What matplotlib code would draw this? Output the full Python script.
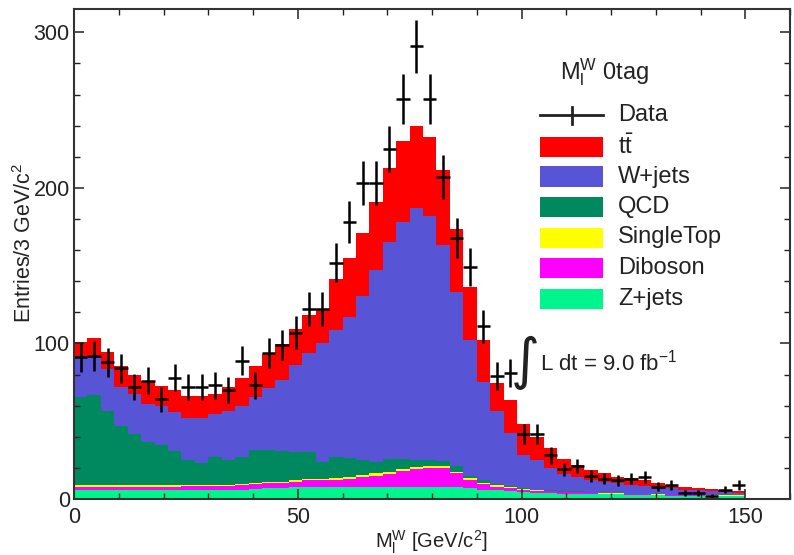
import numpy as np
import matplotlib
matplotlib.use("Agg")
import matplotlib.pyplot as plt
from matplotlib.patches import Rectangle
from matplotlib.lines import Line2D
from matplotlib.ticker import MultipleLocator

plt.rcParams['font.family'] = ['Liberation Sans', 'DejaVu Sans']
plt.rcParams['mathtext.fontset'] = 'custom'
plt.rcParams['mathtext.rm'] = 'Liberation Sans'
plt.rcParams['mathtext.it'] = 'Liberation Sans:italic'
plt.rcParams['mathtext.bf'] = 'Liberation Sans:bold'

# 3 GeV bins from 0 to 150
bin_edges = np.arange(0, 151, 3)

data = [91, 92, 88, 84, 72, 76, 64, 78, 72, 72,
        73, 70, 89, 73, 94, 99, 107, 122, 122, 152,
        178, 203, 203, 225, 257, 291, 257, 207, 168, 149,
        111, 79, 81, 42, 42, 28, 19, 21, 15, 13,
        12, 13, 14, 8, 9, 4, 4, 2, 6, 9]

zjets = [6, 6, 6, 6, 6, 6, 6, 6, 6, 6,
         6, 6, 6, 6.5, 7, 7, 7.5, 8, 8, 8,
         8, 8, 8, 8, 8, 8, 8, 8, 7.5, 7,
         6, 5.5, 5, 4.5, 4, 4, 3.5, 3.5, 3, 3,
         3, 2.5, 2.5, 2.5, 2, 2, 2, 2, 2, 2]

diboson = [2, 2, 2, 2, 2, 2, 2, 2, 2.5, 2.5,
           2.5, 2.5, 3, 3, 3, 3, 3.5, 4, 4, 4.5,
           5, 6, 7, 8, 10, 11, 12, 12, 9, 5.5,
           3.5, 2.5, 2, 1.5, 1.2, 1, 0.8, 0.7, 0.6, 0.5,
           0.5, 0.4, 0.4, 0.3, 0.3, 0.3, 0.3, 0.2, 0.2, 0.2]

singletop = [0.8, 0.8, 0.8, 0.8, 0.8, 0.8, 0.8, 0.8, 0.8, 0.8,
             0.8, 0.8, 0.8, 0.8, 0.8, 0.8, 1.0, 1.0, 1.0, 1.2,
             1.2, 1.2, 1.5, 1.5, 1.5, 1.5, 1.5, 1.2, 1.0, 1.0,
             0.8, 0.7, 0.6, 0.5, 0.4, 0.3, 0.3, 0.3, 0.2, 0.2,
             0.2, 0.2, 0.2, 0.1, 0.1, 0.1, 0.1, 0.1, 0.1, 0.1]

qcd = [57, 58, 48, 38, 33, 28, 26, 22, 16, 14,
       17.5, 15.5, 17, 21.5, 20.5, 20, 18.5, 17.5, 11, 13,
       12, 10, 7.5, 8.5, 6.5, 4.5, 3.5, 3, 3.5, 1.5,
       2, 1, 0.8, 0.5, 0.5, 0.5, 0.4, 0.4, 0.3, 0.3,
       0.3, 0.2, 0.2, 0.2, 0.2, 0.1, 0.1, 0.1, 0.1, 0.1]

wjets = [26, 25, 27, 25, 26, 24, 25, 25, 27, 29,
         28, 32, 33, 34, 40, 46, 55.5, 63.5, 76, 82,
         91, 105, 123, 139, 152, 162, 157, 139, 112, 87,
         63, 47, 34, 21, 19, 14, 11, 9, 8, 7,
         6, 5.7, 5.2, 4.4, 4.4, 3.5, 3, 2.6, 2.1, 1.6]

ttbar = [9, 11.5, 11, 14, 12, 15, 13, 14, 14, 14,
         13, 15, 18, 20, 22, 23, 23, 24, 22, 33,
         38, 41, 44, 48, 52, 53, 51, 48.5, 40.4, 34,
         27, 18, 21.5, 20, 15, 13, 10, 8, 6.7, 5.5,
         4, 4.5, 3.5, 2.5, 2, 1.7, 1.5, 1.4, 1.3, 1.3]

components = [
    ("Z+jets", zjets, "#00f58c"),
    ("Diboson", diboson, "#ff00ff"),
    ("SingleTop", singletop, "#ffff00"),
    ("QCD", qcd, "#00895e"),
    ("W+jets", wjets, "#5754d6"),
    (r"t$\bar{\mathrm{t}}$", ttbar, "#ff0000"),
]

fig = plt.figure(figsize=(7.94, 5.55), dpi=100)
W, H = 794.0, 555.0
x0, x1, y0, y1 = 74, 790, 9, 499
ax = fig.add_axes([x0 / W, 1 - y1 / H, (x1 - x0) / W, (y1 - y0) / H])

# stacked backgrounds
bottom = np.zeros(len(bin_edges) - 1)
for name, vals, col in components:
    top = bottom + np.asarray(vals, dtype=float)
    ax.stairs(top, bin_edges, baseline=bottom, fill=True, color=col, lw=0)
    bottom = top

# data points with statistical errors
centers = 0.5 * (bin_edges[:-1] + bin_edges[1:])
d = np.asarray(data, dtype=float)
ax.errorbar(centers, d, xerr=1.5, yerr=np.sqrt(d), fmt='none',
            ecolor='black', elinewidth=1.8, capsize=0, zorder=5)

ax.set_xlim(0, 160)
ax.set_ylim(0, 315)
ax.xaxis.set_major_locator(MultipleLocator(50))
ax.xaxis.set_minor_locator(MultipleLocator(10))
ax.yaxis.set_major_locator(MultipleLocator(100))
ax.yaxis.set_minor_locator(MultipleLocator(20))
ax.tick_params(which='both', direction='in', top=True, right=True,
               labelsize=15.5, colors='#222222')
ax.tick_params(which='major', length=7, width=1.1)
ax.tick_params(which='minor', length=4, width=1.0)
ax.tick_params(axis='x', pad=6)
ax.tick_params(axis='y', pad=3)
for sp in ax.spines.values():
    sp.set_linewidth(1.5)
    sp.set_color('#333333')
    sp.set_zorder(6)

ax.set_xlabel(r"M$_{\mathrm{l}}^{\mathrm{W}}$ [GeV/c$^{2}$]", fontsize=14.5,
              color='#222222')
ax.xaxis.set_label_coords((431 - x0) / (x1 - x0), -(529 - y1) / (y1 - y0))
ax.set_ylabel(r"Entries/3 GeV/c$^{2}$", fontsize=15.5, color='#222222')
ax.yaxis.set_label_coords(-(74 - 36) / (x1 - x0), (y1 - 243) / (y1 - y0))


def ax_xy(px, py):
    return (px - x0) / (x1 - x0), (y1 - py) / (y1 - y0)


# legend
tx, ty = ax_xy(560, 72)
ax.text(tx, ty, r"M$_{\mathrm{l}}^{\mathrm{W}}$ 0tag", transform=ax.transAxes,
        fontsize=17, va='center', ha='left', color='#222222')

lx0, _ = ax_xy(540, 0)
lx1, _ = ax_xy(603, 0)
txt_x, _ = ax_xy(618, 0)
_, dy = ax_xy(0, 115)
ax.add_line(Line2D([lx0, lx1], [dy, dy], transform=ax.transAxes,
                   color='#222222', lw=2, clip_on=False))
_, dyt = ax_xy(0, 107)
_, dyb = ax_xy(0, 124)
ax.add_line(Line2D([(lx0 + lx1) / 2] * 2, [dyb, dyt], transform=ax.transAxes,
                   color='#222222', lw=2, clip_on=False))
ax.text(txt_x, dy, "Data", transform=ax.transAxes, fontsize=17,
        va='center', ha='left', color='#222222')

legend_rows = [(r"t$\bar{\mathrm{t}}$", "#ff0000", 147),
               ("W+jets", "#5754d6", 176.5),
               ("QCD", "#00895e", 207),
               ("SingleTop", "#ffff00", 237.5),
               ("Diboson", "#ff00ff", 267.5),
               ("Z+jets", "#00f58c", 298.5)]
box_h = 20 / (y1 - y0)
for label, col, cy in legend_rows:
    _, yc = ax_xy(0, cy)
    ax.add_patch(Rectangle((lx0, yc - box_h / 2), lx1 - lx0, box_h,
                           transform=ax.transAxes, facecolor=col,
                           edgecolor='none', clip_on=False))
    ax.text(txt_x, yc, label, transform=ax.transAxes, fontsize=17,
            va='center', ha='left', color='#222222')

# luminosity
ix, iy = ax_xy(525, 363)
ax.text(ix, iy, "\u222b", transform=ax.transAxes, fontsize=40,
        va='center', ha='center', color='#222222',
        family=['DejaVu Sans'])
lx, ly = ax_xy(540, 363)
ax.text(lx, ly, r"L dt = 9.0 fb$^{-1}$", transform=ax.transAxes,
        fontsize=16, va='center', ha='left', color='#222222')

fig.savefig("out.png", dpi=100)
